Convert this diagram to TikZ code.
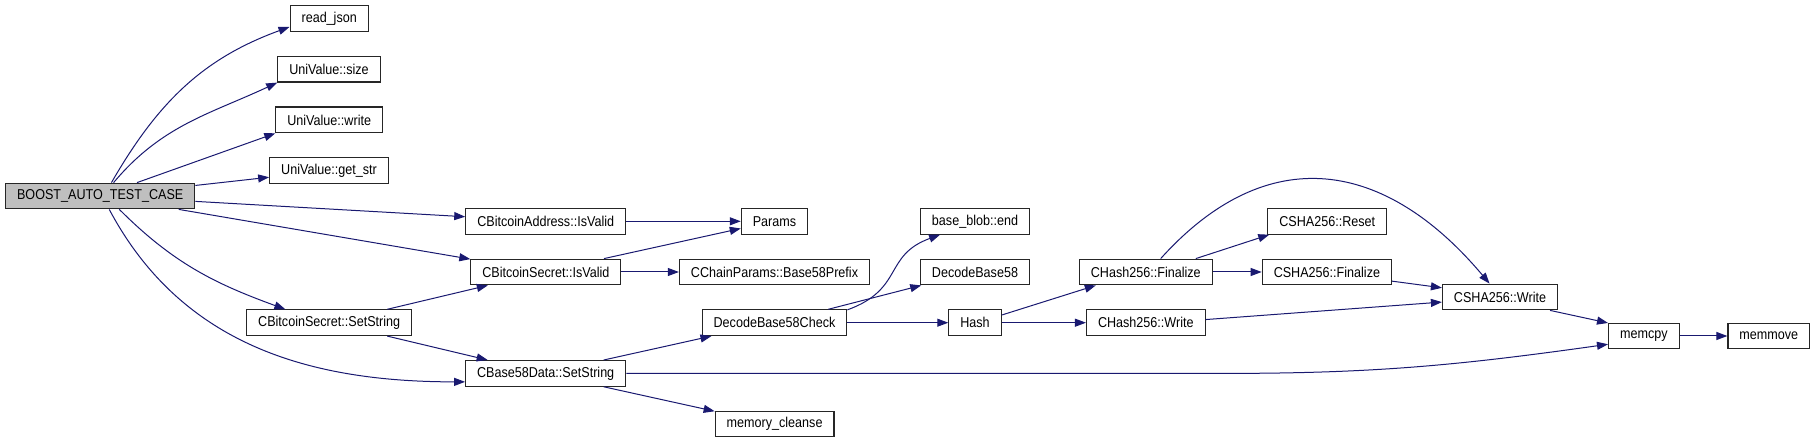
\documentclass[tikz,border=0pt]{standalone}
\usepackage{fontspec}
\setmainfont[FakeStretch=0.88]{Liberation Sans}
\usetikzlibrary{arrows.meta, calc}
\definecolor{doxEdge}{HTML}{191970}
\definecolor{doxBoxS}{HTML}{262626}
\definecolor{doxRootF}{HTML}{BFBFBF}
\tikzset{
  >={Triangle[length=11pt, width=8pt]},
  fnode/.style={rectangle, draw=doxBoxS, line width=1.1pt, fill=white,
    minimum height=25.7pt, inner xsep=11.5pt, inner ysep=0pt,
    font=\fontsize{14.3}{15}\selectfont},
  rootnode/.style={fnode, fill=doxRootF},
  flow/.style={->, line width=1pt, draw=doxEdge, color=doxEdge},
}
\begin{document}
\begin{tikzpicture}[x=1pt, y=1pt]
  \useasboundingbox (0,0) rectangle (1815,-443);

  % ---- Nodes -------------------------------------------------------------
  \node[rootnode] (boost)    at (100.2,-196)  {BOOST\_AUTO\_TEST\_CASE};
  \node[fnode]    (readjson) at (329.2,-18.5) {read\_json};
  \node[fnode]    (uvsize)   at (329,-69.2)   {UniValue::size};
  \node[fnode]    (uvwrite)  at (329.2,-119.9){UniValue::write};
  \node[fnode]    (uvgetstr) at (329,-170.6)  {UniValue::get\_str};
  \node[fnode]    (secset)   at (329.2,-322.7){CBitcoinSecret::SetString};

  \node[fnode]    (addrok)   at (545.7,-221.3){CBitcoinAddress::IsValid};
  \node[fnode]    (secok)    at (545.9,-272)  {CBitcoinSecret::IsValid};
  \node[fnode]    (b58set)   at (545.7,-373.4){CBase58Data::SetString};

  \node[fnode]    (params)   at (774.5,-221.3){Params};
  \node[fnode]    (prefix)   at (774.5,-272)  {CChainParams::Base58Prefix};
  \node[fnode]    (dbcheck)  at (774.5,-322.7){DecodeBase58Check};
  \node[fnode]    (cleanse)  at (774.6,-424)  {memory\_cleanse};

  \node[fnode]    (blobend)  at (975,-221.3)  {base\_blob::end};
  \node[fnode]    (decode)   at (975,-272)    {DecodeBase58};
  \node[fnode]    (hash)     at (975,-322.7)  {Hash};

  \node[fnode]    (hfinal)   at (1145.8,-272) {CHash256::Finalize};
  \node[fnode]    (hwrite)   at (1145.8,-322.7){CHash256::Write};

  \node[fnode]    (sreset)   at (1327.3,-221.3){CSHA256::Reset};
  \node[fnode]    (sfinal)   at (1326.9,-272) {CSHA256::Finalize};
  \node[fnode]    (swrite)   at (1500,-297)   {CSHA256::Write};

  \node[fnode]    (memcpy)   at (1643.8,-336) {memcpy};
  \node[fnode]    (memmove)  at (1768.8,-336) {memmove};

  % ---- Edges -------------------------------------------------------------
  % test case fans out
  \draw[flow] (boost.50) to[out=60, in=200] (readjson.192);
  \draw[flow] (boost.45) to[out=50, in=205] (uvsize.south west);
  \draw[flow] (boost.20) -- (uvwrite.south west);
  \draw[flow] (boost) -- (uvgetstr);
  \draw[flow] (boost) -- (addrok);
  \draw[flow] (boost) -- (secok);
  \draw[flow] (boost.-35) to[out=-45, in=160] (secset.163);
  \draw[flow] (boost.-56) to[out=-62, in=180] (b58set.186);

  % secret / address checks
  \draw[flow] (secset.13) -- (secok.193);
  \draw[flow] (secset.-13) -- (b58set.167);
  \draw[flow] (addrok) -- (params);
  \draw[flow] (secok.13) -- (params.192);
  \draw[flow] (secok) -- (prefix);

  % base58 decoding
  \draw[flow] (b58set.13) -- (dbcheck.192);
  \draw[flow] (b58set.-13) -- (cleanse.168);
  \draw[flow] (b58set.east) -- ++(600,0) to[out=0, in=188] (memcpy.193);
  \draw[flow] (dbcheck.10) to[out=20, in=200, looseness=1.3] (blobend.201);
  \draw[flow] (dbcheck.14) -- (decode.194);
  \draw[flow] (dbcheck) -- (hash);

  % hashing
  \draw[flow] (hash.16) -- (hfinal.195);
  \draw[flow] (hash) -- (hwrite);
  \draw[flow] (hfinal.15) -- (sreset.193);
  \draw[flow] (hfinal) -- (sfinal);
  \draw[flow] (hfinal.42) to[out=48, in=130, looseness=1.25] (swrite.128);
  \draw[flow] (sfinal.-8) -- (swrite.171);
  \draw[flow] (hwrite.3) -- (swrite.185);
  \draw[flow] (swrite.-15) -- (memcpy.160);
  \draw[flow] (memcpy) -- (memmove);

\end{tikzpicture}
\end{document}
